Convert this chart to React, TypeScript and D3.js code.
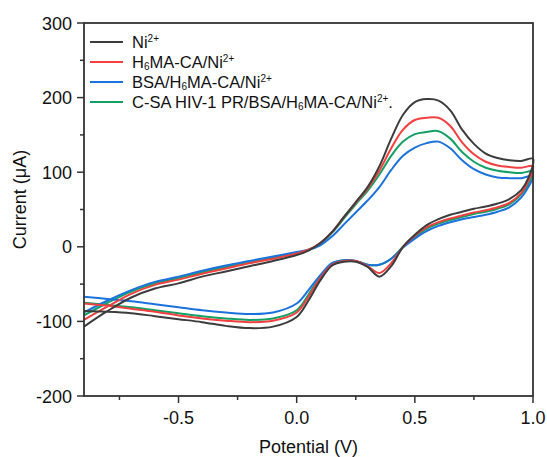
import React from "react";
import * as d3 from "d3";

const forwardV = [-0.9, -0.8, -0.7, -0.6, -0.5, -0.4, -0.3, -0.2, -0.1, 0.0, 0.05, 0.1, 0.15, 0.2, 0.25, 0.3, 0.35, 0.4, 0.45, 0.5, 0.55, 0.6, 0.65, 0.7, 0.75, 0.8, 0.85, 0.9, 0.95, 1.0];
const reverseV = [1.0, 0.98, 0.95, 0.9, 0.85, 0.8, 0.75, 0.7, 0.65, 0.6, 0.55, 0.5, 0.45, 0.4, 0.35, 0.3, 0.25, 0.2, 0.15, 0.1, 0.05, 0.0, -0.1, -0.2, -0.3, -0.4, -0.5, -0.6, -0.7, -0.8, -0.9];

const niForward = [-107, -86, -68, -56, -49, -40, -33, -26, -19, -11, -5, 5, 20, 40, 60, 80, 108, 145, 177, 194, 198, 196, 183, 157, 138, 125, 119, 116, 115, 118];
const niReverse = [118, 92, 76, 64, 58, 54, 51, 47, 43, 37, 29, 16, 0, -26, -40, -27, -20, -20, -25, -45, -72, -94, -107, -109, -106, -101, -97, -93, -89, -87, -86];

const h6Forward = [-98, -80, -63, -51, -44, -36, -29, -22, -16, -9, -4, 5, 20, 40, 59, 78, 102, 132, 157, 170, 173, 173, 162, 140, 124, 114, 109, 107, 106, 108];
const h6Reverse = [108, 88, 72, 59, 53, 49, 46, 42, 38, 33, 26, 15, 0, -22, -35, -26, -19, -19, -24, -42, -67, -88, -99, -101, -99, -96, -92, -87, -83, -79, -76];

const bsaForward = [-88, -72, -58, -47, -40, -32, -25, -19, -13, -7, -4, 2, 14, 30, 46, 62, 80, 103, 122, 133, 139, 141, 132, 116, 104, 97, 93, 92, 92, 95];
const bsaReverse = [95, 80, 66, 53, 47, 43, 40, 37, 33, 28, 21, 11, -1, -16, -24, -24, -19, -18, -22, -38, -58, -76, -88, -90, -88, -85, -81, -77, -73, -70, -67];

const csaForward = [-92, -75, -60, -49, -42, -34, -27, -21, -15, -8, -4, 4, 19, 38, 57, 75, 97, 122, 141, 151, 154, 155, 145, 127, 114, 106, 102, 100, 99, 101];
const csaReverse = [101, 84, 70, 57, 51, 47, 44, 40, 36, 31, 24, 13, 0, -16, -24, -24, -19, -18, -22, -40, -64, -85, -96, -98, -96, -93, -89, -85, -81, -78, -75];

const xTicks = [-0.5, 0.0, 0.5, 1.0];
const xTickLabels = ["-0.5", "0.0", "0.5", "1.0"];
const xMinorTicks = [-0.75, -0.25, 0.25, 0.75];
const yTicks = [-200, -100, 0, 100, 200, 300];
const yMinorTicks = [-150, -50, 50, 150, 250];

const seriesColors = ["#3c3c3c", "#f23f3f", "#1b72dc", "#12a064"];

const W = 547;
const H = 457;
const M = { left: 84, right: 533, top: 23, bottom: 396 };

const x = d3.scaleLinear().domain([-0.9, 1.0]).range([M.left, M.right]);
const y = d3.scaleLinear().domain([-200, 300]).range([M.bottom, M.top]);

const series = [
  { name: "ni", fwd: niForward, rev: niReverse, color: seriesColors[0] },
  { name: "h6", fwd: h6Forward, rev: h6Reverse, color: seriesColors[1] },
  { name: "bsa", fwd: bsaForward, rev: bsaReverse, color: seriesColors[2] },
  { name: "csa", fwd: csaForward, rev: csaReverse, color: seriesColors[3] },
];

const line = d3
  .line<[number, number]>()
  .x((d) => x(d[0]))
  .y((d) => y(d[1]))
  .curve(d3.curveCatmullRom.alpha(0.5));

const FONT = "Liberation Sans, Arial, sans-serif";

function LegendLabel({ idx }: { idx: number }) {
  const sup = { fontSize: 10, baselineShift: "6px" } as any;
  const sub = { fontSize: 10, baselineShift: "-2px" } as any;
  if (idx === 0)
    return (
      <>
        Ni<tspan style={sup}>2+</tspan>
      </>
    );
  if (idx === 1)
    return (
      <>
        H<tspan style={sub}>6</tspan>MA-CA/Ni<tspan style={sup}>2+</tspan>
      </>
    );
  if (idx === 2)
    return (
      <>
        BSA/H<tspan style={sub}>6</tspan>MA-CA/Ni<tspan style={sup}>2+</tspan>
      </>
    );
  return (
    <>
      C-SA HIV-1 PR/BSA/H<tspan style={sub}>6</tspan>MA-CA/Ni<tspan style={sup}>2+</tspan>.
    </>
  );
}

export default function App() {
  const drawOrder = [3, 2, 1, 0];
  return (
    <div style={{ position: "absolute", left: 0, top: 0 }}>
      <svg width={W} height={H} style={{ display: "block", background: "#fff" }} fontFamily={FONT}>
        <rect x={0} y={0} width={W} height={H} fill="#fff" />
        {drawOrder.map((i) => {
          const s = series[i];
          const pts: [number, number][] = [
            ...forwardV.map((v, k) => [v, s.fwd[k]] as [number, number]),
            ...reverseV.slice(1).map((v, k) => [v, s.rev[k + 1]] as [number, number]),
          ];
          return <path key={s.name} d={line(pts) || ""} fill="none" stroke={s.color} strokeWidth={2} />;
        })}
        {/* frame */}
        <rect
          x={M.left}
          y={M.top}
          width={M.right - M.left}
          height={M.bottom - M.top}
          fill="none"
          stroke="#333"
          strokeWidth={1.8}
        />
        {/* x ticks */}
        {xTicks.map((t, i) => (
          <g key={"xt" + t}>
            <line x1={x(t)} x2={x(t)} y1={M.bottom} y2={M.bottom + 7} stroke="#333" strokeWidth={1.5} />
            <text x={x(t)} y={424} textAnchor="middle" fontSize={18} fill="#111">
              {xTickLabels[i]}
            </text>
          </g>
        ))}
        {xMinorTicks.map((t) => (
          <line key={"xm" + t} x1={x(t)} x2={x(t)} y1={M.bottom} y2={M.bottom + 4} stroke="#333" strokeWidth={1.5} />
        ))}
        {/* y ticks */}
        {yTicks.map((t) => (
          <g key={"yt" + t}>
            <line x1={M.left - 7} x2={M.left} y1={y(t)} y2={y(t)} stroke="#333" strokeWidth={1.5} />
            <text x={72} y={y(t) + 6.5} textAnchor="end" fontSize={18} fill="#111">
              {String(t)}
            </text>
          </g>
        ))}
        {yMinorTicks.map((t) => (
          <line key={"ym" + t} x1={M.left - 4} x2={M.left} y1={y(t)} y2={y(t)} stroke="#333" strokeWidth={1.5} />
        ))}
        {/* axis titles */}
        <text x={(M.left + M.right) / 2} y={453} textAnchor="middle" fontSize={18} fill="#111">
          Potential (V)
        </text>
        <text
          transform={`translate(26,${(M.top + M.bottom) / 2 - 10}) rotate(-90)`}
          textAnchor="middle"
          fontSize={18}
          fill="#111"
        >
          Current (μA)
        </text>
        {/* legend */}
        {series.map((s, i) => (
          <g key={"lg" + s.name}>
            <line x1={90} x2={123} y1={42 + i * 20} y2={42 + i * 20} stroke={s.color} strokeWidth={2} />
            <text x={132} y={42 + i * 20 + 6} fontSize={16.5} fill="#111">
              <LegendLabel idx={i} />
            </text>
          </g>
        ))}
      </svg>
    </div>
  );
}
